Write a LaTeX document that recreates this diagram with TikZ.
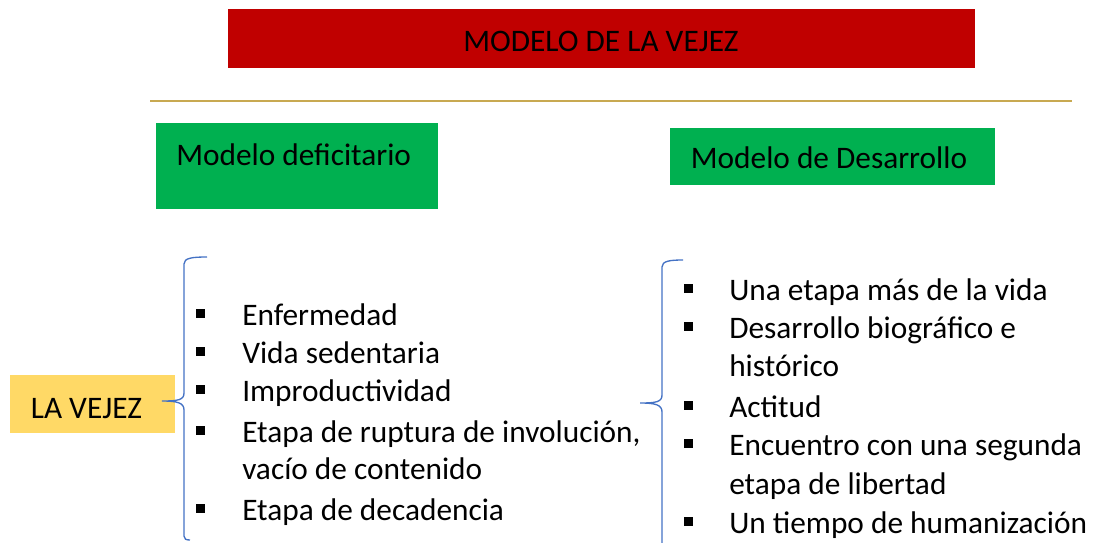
\documentclass[tikz,border=0pt]{standalone}
\usepackage{fontspec}
\setmainfont{Carlito}
\definecolor{titlered}{HTML}{C00000}
\definecolor{boxgreen}{HTML}{00B050}
\definecolor{boxyellow}{HTML}{FFD966}
\definecolor{braceblue}{HTML}{4472C4}
\definecolor{rulegold}{HTML}{C8A951}
\tikzset{
  box/.style={inner sep=0pt, draw=none},
  txt/.style={inner sep=0pt, anchor=base west, font=\fontsize{23.5}{28.5}\selectfont},
  ctxt/.style={inner sep=0pt, anchor=base, font=\fontsize{23.5}{28.5}\selectfont},
  bul/.style={fill=black, draw=none, minimum size=6.75pt, inner sep=0pt},
  bracepath/.style={draw=braceblue, line width=1pt},
}
\begin{document}
\begin{tikzpicture}[x=0.75pt,y=-0.75pt]
\useasboundingbox (0,0) rectangle (1094,542);
% title
\node[box, fill=titlered, minimum width=560.25pt, minimum height=44.25pt] (title) at (601.5,38.5) {};
\node[ctxt] (titletxt) at (601,51) {MODELO DE LA VEJEZ};
% gold rule
\coordinate (ruleL) at (150,101);
\coordinate (ruleR) at (1072,101);
\draw[rulegold, line width=1.5pt] (ruleL) -- (ruleR);
% green boxes
\node[box, fill=boxgreen, minimum width=211.5pt, minimum height=64.5pt] (def) at (297,166) {};
\node[txt] (deftxt) at (176,165) {Modelo deficitario};
\node[box, fill=boxgreen, minimum width=243.75pt, minimum height=42.75pt] (des) at (832.5,156.5) {};
\node[ctxt] (destxt) at (829,168) {Modelo de Desarrollo};
% la vejez
\node[box, fill=boxyellow, minimum width=123.75pt, minimum height=43.5pt] (vejez) at (92.5,404) {};
\node[ctxt] (vejeztxt) at (86.5,418) {LA VEJEZ};
% left brace
\coordinate (lbTop) at (207,257);
\coordinate (lbTip) at (162,401);
\coordinate (lbBot) at (190,540);
\draw[bracepath] (lbTop) .. controls (192,257) and (184,258) .. (184,264)
  -- (184,393) .. controls (184,400) and (178,401) .. (lbTip)
  .. controls (178,401) and (184,403) .. (184,410)
  -- (184,536) .. controls (184,539) and (186,540) .. (lbBot);
% right brace
\coordinate (rbTop) at (683,260);
\coordinate (rbTip) at (640,403);
\coordinate (rbBot) at (662,545);
\draw[bracepath] (rbTop) .. controls (670,260) and (662,261) .. (662,267)
  -- (662,395) .. controls (662,402) and (656,403) .. (rbTip)
  .. controls (656,403) and (662,405) .. (662,412)
  -- (rbBot);
% left list
\foreach \t/\y/\b in {Enfermedad/325/1, Vida sedentaria/363/1, Improductividad/401/1,
  {Etapa de ruptura de involución,}/442/1, vacío de contenido/479/0, Etapa de decadencia/520/1}{
  \node[txt] at (242,\y) {\t};
  \ifnum\b=1 \node[bul] at (200.5,\y-12) {};\fi
}
% right list
\foreach \t/\y/\b in {Una etapa más de la vida/300/1, Desarrollo biográfico e/338/1, histórico/376/0,
  Actitud/417/1, Encuentro con una segunda/455/1, etapa de libertad/494/0, Un tiempo de humanización/533/1}{
  \node[txt] at (729,\y) {\t};
  \ifnum\b=1 \node[bul] at (688,\y-12) {};\fi
}
\end{tikzpicture}
\end{document}
